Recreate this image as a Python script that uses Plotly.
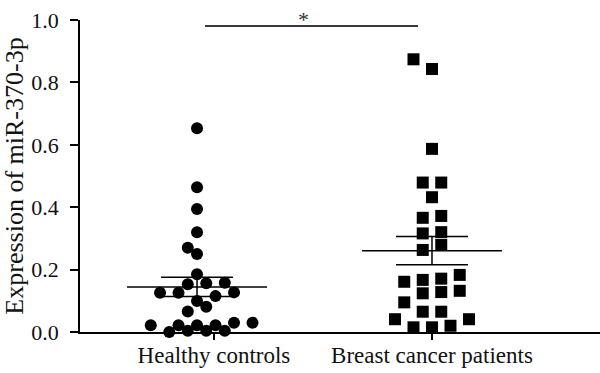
import numpy as np
import plotly.graph_objects as go

# ---- data ----
groups = ["Healthy controls", "Breast cancer patients"]
healthy = [0.653, 0.464, 0.394, 0.320, 0.270, 0.250, 0.185, 0.156, 0.153,
           0.158, 0.127, 0.115, 0.126, 0.126, 0.099, 0.081, 0.066, 0.022,
           0.022, 0.022, 0.022, 0.030, 0.030, 0.004, 0.004, 0.000, 0.004]
cancer = [0.874, 0.843, 0.587, 0.479, 0.479, 0.432, 0.366, 0.372, 0.320,
          0.316, 0.279, 0.263, 0.183, 0.167, 0.171, 0.128, 0.161, 0.132,
          0.124, 0.095, 0.065, 0.065, 0.041, 0.041, 0.015, 0.015, 0.020]
y_ticks = [0.0, 0.2, 0.4, 0.6, 0.8, 1.0]
y_title = "Expression of miR-370-3p"
significance = "*"

# ---- layout constants ----
W, H = 600, 373
ML, MR, MT, MB = 80, 0, 20, 41
X_RANGE = [0.502, 2.715]
PX_X = (W - ML - MR) / (X_RANGE[1] - X_RANGE[0])
PX_Y = (H - MT - MB) / 1.0
group_pos = [1.0, 2.0]
label_pos = [1.072, 2.0]
FONT = "Liberation Serif"


def swarm_offsets(vals, step=18.5, row_h=6.0, near_dx=9.25):
    """Column-scatter layout: group close values into rows, spread each row
    around the centre, then nudge points on a half-step grid to avoid overlap."""
    vals = np.asarray(vals, dtype=float)
    order = np.argsort(vals, kind="stable")
    ypx = vals * PX_Y

    def need(dy):
        dy = abs(dy)
        if dy < 4.9:
            return step
        if dy < 12.5:
            return near_dx
        return 0.0

    rows, cur = [], [order[0]]
    for i in order[1:]:
        if ypx[i] - ypx[cur[0]] > row_h:
            rows.append(cur)
            cur = [i]
        else:
            cur.append(i)
    rows.append(cur)
    xs = np.zeros(len(vals))
    placed = []
    grid = [j * step / 2 for j in range(-10, 11)]
    for row in rows:
        n = len(row)
        for k, i in enumerate(row):
            pref = (k - (n - 1) / 2) * step
            cands = sorted(grid + [pref], key=lambda c: (abs(c - pref), abs(c), c))
            for c in cands:
                if all(abs(c - px) >= need(ypx[i] - py) - 1e-6 for px, py in placed):
                    xs[i] = c
                    placed.append((c, ypx[i]))
                    break
    return xs / PX_X


fig = go.Figure()
symbols = ["circle", "square"]
near = [9.25, 15.0]
for vals, pos, sym, name, nd in zip([healthy, cancer], group_pos, symbols, groups, near):
    offs = swarm_offsets(vals, near_dx=nd)
    fig.add_trace(go.Scatter(
        x=pos + offs, y=vals, mode="markers", name=name,
        marker=dict(symbol=sym, size=12, color="black", line=dict(width=0)),
        cliponaxis=False, showlegend=False))
    arr = np.asarray(vals)
    m = arr.mean()
    sem = arr.std(ddof=1) / np.sqrt(len(arr))
    mw = 70 / PX_X
    cw = 36 / PX_X
    line = dict(color="black", width=1.5)
    fig.add_trace(go.Scatter(x=[pos - mw, pos + mw], y=[m, m], mode="lines",
                             line=line, showlegend=False, hoverinfo="skip"))
    for v in (m - sem, m + sem):
        fig.add_trace(go.Scatter(x=[pos - cw, pos + cw], y=[v, v], mode="lines",
                                 line=line, showlegend=False, hoverinfo="skip"))
    fig.add_trace(go.Scatter(x=[pos, pos], y=[m - sem, m + sem], mode="lines",
                             line=line, showlegend=False, hoverinfo="skip"))

# significance bar
sx0 = group_pos[0] + 8 / PX_X
sx1 = group_pos[1] - 14 / PX_X
fig.add_shape(type="line", xref="x", yref="y", x0=sx0, x1=sx1,
              y0=0.981, y1=0.981, line=dict(color="#3a3a3a", width=2))
fig.add_annotation(x=(sx0 + sx1) / 2, y=0.981, yref="y", xref="x",
                   text=significance, showarrow=False, yanchor="bottom",
                   xshift=-8, yshift=-8, font=dict(family=FONT, size=22, color="#333333"))

fig.update_layout(
    width=W, height=H, margin=dict(l=ML, r=MR, t=MT, b=MB),
    paper_bgcolor="white", plot_bgcolor="white",
    font=dict(family=FONT, color="black"),
    xaxis=dict(range=X_RANGE, tickvals=label_pos, ticktext=groups,
               automargin=False,
               showline=True, linecolor="black", linewidth=1.5,
               ticks="outside", ticklen=6, tickwidth=1.5, tickcolor="black",
               showgrid=False, zeroline=False, ticklabelstandoff=-4,
               tickfont=dict(family=FONT, size=23, color="#111111")),
    yaxis=dict(range=[0, 1], tickvals=y_ticks, tickformat=".1f",
               automargin=False,
               showline=True, linecolor="black", linewidth=1.5,
               ticks="outside", ticklen=8, tickwidth=1.5, tickcolor="black",
               showgrid=False, zeroline=False, ticklabelstandoff=7,
               tickfont=dict(family=FONT, size=22, color="#111111"),
               title=dict(text=y_title, standoff=6,
                          font=dict(family=FONT, size=26, color="#111111"))),
)

fig.write_html("out.html", config={"displayModeBar": False},
               post_script="document.body.style.margin='0px';")
